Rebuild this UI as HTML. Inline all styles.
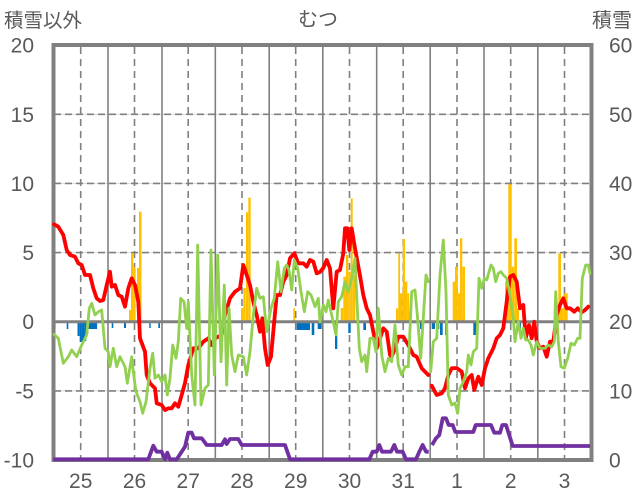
<!DOCTYPE html>
<html><head><meta charset="utf-8"><style>
html,body{margin:0;padding:0;background:#fff;}
svg{display:block;}
text{font-family:"Liberation Sans","Noto Sans CJK JP",sans-serif;fill:#595959;}
</style></head><body>
<svg width="636" height="501" viewBox="0 0 636 501" xmlns="http://www.w3.org/2000/svg">
<rect width="636" height="501" fill="#fff"/>
<!-- light horizontal gridlines -->
<g stroke="#d9d9d9" stroke-width="1">
<line x1="54" y1="114.3" x2="591" y2="114.3"/><line x1="54" y1="183.4" x2="591" y2="183.4"/>
<line x1="54" y1="252.6" x2="591" y2="252.6"/><line x1="54" y1="390.9" x2="591" y2="390.9"/>
</g>
<g stroke="#808080" stroke-width="1.6" stroke-dasharray="7 4">
<line x1="54" y1="114.3" x2="591" y2="114.3"/><line x1="54" y1="183.4" x2="591" y2="183.4"/>
<line x1="54" y1="252.6" x2="591" y2="252.6"/><line x1="54" y1="390.9" x2="591" y2="390.9"/>
</g>
<!-- vertical dashed (noon) -->
<g stroke="#808080" stroke-width="1.6" stroke-dasharray="7 5">
<line x1="80.7" y1="47" x2="80.7" y2="458"/><line x1="134.5" y1="47" x2="134.5" y2="458"/>
<line x1="188.2" y1="47" x2="188.2" y2="458"/><line x1="242" y1="47" x2="242" y2="458"/>
<line x1="295.7" y1="47" x2="295.7" y2="458"/><line x1="349.5" y1="47" x2="349.5" y2="458"/>
<line x1="403.2" y1="47" x2="403.2" y2="458"/><line x1="457" y1="47" x2="457" y2="458"/>
<line x1="510.7" y1="47" x2="510.7" y2="458"/><line x1="564.5" y1="47" x2="564.5" y2="458"/>
</g>
<!-- vertical solid (day boundaries) -->
<g stroke="#808080" stroke-width="1.6">
<line x1="108" y1="47" x2="108" y2="458"/><line x1="162" y1="47" x2="162" y2="458"/>
<line x1="215.3" y1="47" x2="215.3" y2="458"/><line x1="269.2" y1="47" x2="269.2" y2="458"/>
<line x1="322.8" y1="47" x2="322.8" y2="458"/><line x1="376.7" y1="47" x2="376.7" y2="458"/>
<line x1="430.2" y1="47" x2="430.2" y2="458"/><line x1="484" y1="47" x2="484" y2="458"/>
<line x1="537.8" y1="47" x2="537.8" y2="458"/>
</g>
<!-- orange bars -->
<g fill="#FFC000">
<rect x="129" y="310" width="2" height="11.7"/>
<rect x="131" y="253" width="2.3" height="68.7"/>
<rect x="133.3" y="267" width="2.3" height="54.7"/>
<rect x="137" y="268" width="2" height="53.7"/>
<rect x="139" y="211.7" width="2.5" height="110"/>
<rect x="241" y="308" width="2.3" height="13.7"/>
<rect x="243.3" y="288" width="2.4" height="33.7"/>
<rect x="246" y="212.3" width="2.3" height="109.4"/>
<rect x="248.3" y="197.7" width="2.4" height="124"/>
<rect x="293.3" y="308.3" width="1.7" height="13.4"/>
<rect x="340.7" y="308" width="2.6" height="13.7"/>
<rect x="343.3" y="276.7" width="2.7" height="45"/>
<rect x="346" y="255" width="2.3" height="66.7"/>
<rect x="348.3" y="271.7" width="2.4" height="50"/>
<rect x="350.7" y="198.3" width="2" height="123.4"/>
<rect x="352.7" y="275" width="2.6" height="46.7"/>
<rect x="396" y="308.3" width="2.3" height="13.4"/>
<rect x="398.3" y="253.3" width="1.7" height="68.4"/>
<rect x="400" y="293.3" width="2.7" height="28.4"/>
<rect x="402.7" y="239" width="2.3" height="82.7"/>
<rect x="405" y="281.7" width="2.3" height="40"/>
<rect x="407.3" y="293.3" width="2" height="28.4"/>
<rect x="452.7" y="281.7" width="2.3" height="40"/>
<rect x="455" y="266.7" width="2.7" height="55"/>
<rect x="457.7" y="293.3" width="2.3" height="28.4"/>
<rect x="460" y="238.3" width="2.3" height="83.4"/>
<rect x="462.3" y="266.7" width="2.7" height="55"/>
<rect x="505" y="281.7" width="3.3" height="40"/>
<rect x="508.3" y="184.3" width="3.4" height="137.4"/>
<rect x="511.7" y="266.7" width="2.6" height="55"/>
<rect x="514.3" y="238.3" width="2.7" height="83.4"/>
<rect x="517" y="308.3" width="2" height="13.4"/>
<rect x="558.3" y="253.3" width="2.7" height="68.4"/>
<rect x="561" y="308.3" width="2.3" height="13.4"/>
<rect x="563.3" y="293.3" width="4.4" height="28.4"/>
</g>
<!-- blue bars -->
<g fill="#0070C0">
<rect x="54" y="322" width="1.6" height="7"/>
<rect x="66.7" y="322" width="1.6" height="7"/>
<rect x="77.5" y="322" width="2.2" height="14"/>
<rect x="79.7" y="322" width="2.2" height="20"/>
<rect x="81.9" y="322" width="2.2" height="20"/>
<rect x="84.1" y="322" width="2.2" height="19"/>
<rect x="86.3" y="322" width="2.2" height="11"/>
<rect x="88.5" y="322" width="8.6" height="7"/>
<rect x="111.7" y="322" width="1.6" height="6"/>
<rect x="124" y="322" width="2" height="6"/>
<rect x="149.3" y="322" width="1.4" height="6"/>
<rect x="158.3" y="322" width="1.7" height="6"/>
<rect x="178.3" y="322" width="1.4" height="6"/>
<rect x="198" y="322" width="2" height="6"/>
<rect x="296.7" y="322" width="13.3" height="8"/>
<rect x="311.7" y="322" width="2.6" height="13"/>
<rect x="317.7" y="322" width="2.3" height="7"/>
<rect x="320" y="322" width="1.7" height="7"/>
<rect x="335" y="322" width="2.3" height="27"/>
<rect x="348.3" y="322" width="2.4" height="11"/>
<rect x="363.3" y="322" width="2.7" height="8"/>
<rect x="420" y="322" width="2.7" height="7"/>
<rect x="431.7" y="322" width="3.3" height="7"/>
<rect x="436.7" y="322" width="2.6" height="7"/>
<rect x="440" y="322" width="2.7" height="13"/>
<rect x="445" y="322" width="2.3" height="13"/>
<rect x="473.3" y="322" width="3.4" height="13"/>
<rect x="518.3" y="322" width="2.7" height="7"/>
</g>
<!-- zero line -->
<line x1="54" y1="321.7" x2="591" y2="321.7" stroke="#808080" stroke-width="3"/>
<!-- frame -->
<rect x="53.5" y="45" width="538" height="415" fill="none" stroke="#808080" stroke-width="4"/>
<!-- red -->
<g fill="none" stroke="#FF0000" stroke-width="3.8" stroke-linejoin="round" stroke-linecap="round">
<polyline points="54,224.3 58.3,226.7 63.3,235 66.7,250 70,255 75,256.7 78.3,263.3 81.7,265 85,275 90,275 93.3,288.3 96.7,298.3 100,301 103.3,300 106.7,285 110,271.7 111.7,286.7 115,285 118.3,295 121.7,296.7 125,306.7 128.3,288.3 131.7,278.3 135,285 138.3,301.7 140,338.3 145,351.7 146.7,375 150,383.3 155,388.3 156.7,403.3 161.7,405 165,410 168.3,408.3 171.7,408.3 175,403.3 178.3,406.7 181.7,395 185,383 188.3,365 193.3,348.3 198.3,348.3 203.3,341.7 208.3,338.3 211.7,345 215,338.3 221.7,335 225,315 230,298.3 235,291.7 240,288.3 243.3,265 246.7,275 250,285 253.3,301.7 256.7,315 260,331.7 262.3,318.3 265,348.3 267.7,365 271,356.7 273.3,331.7 276.7,295 280,295 283.3,281.7 286.7,275 290,258.3 294.3,253.3 298.3,263.3 303.3,263.3 306.7,266.7 310,260 313.3,261.7 316.7,273.3 320,272 323.3,268 326.7,260 330,268.3 333.3,308.3 336.7,271.7 340,270 343.3,253.3 345,228.3 347.3,228.3 349.3,250 351.7,228.3 355,248.3 359.3,271.7 363.3,295 366.7,308.3 370,315 373.3,331.7 376.7,348.3 380,338.3 383.3,328.3 386.7,331.7 390,355 391.7,356.7 395,348.3 398.3,336.7 403.3,336.7 408.3,345 413.3,355 416.7,356.7 421.7,368.3 425,371.7 428.3,375"/>
<polyline points="431.7,385.7 436.7,395 441.7,393.3 445,388.3 448.3,375 451.7,368.3 456.7,368 461.7,371.7 465,388.3 468.3,378.3 471.7,375 474.3,390 478.3,376.7 481.7,385 485,368.3 488.3,358.3 493.3,348.3 496.7,338.3 500,335 503.3,328.3 506.7,301.7 510,276.7 513.3,275 516.7,281.7 520,308.3 523.3,305 525.7,338.3 529,325 531.7,338.3 534.3,321.7 536.7,341.7 540,348.3 543.3,346.7 546.7,356.7 550,341.7 553.3,341.7 556.7,315 560,305 563.3,298.3 566.7,308.3 570,308.3 574.3,311.7 577.7,308.3 581.7,312.3 585,310 588.3,306.7"/>
</g>
<!-- green -->
<g fill="none" stroke="#92D050" stroke-width="2.8" stroke-linejoin="round" stroke-linecap="round">
<polyline points="54,334.3 58.3,338.3 63.3,363.3 68.3,356.7 71.7,350 76.7,356.7 81.7,345 86.7,335 89.3,308.3 91.7,303.3 95,315 98.3,311.7 101.7,310 105,348.3 108.3,351.7 110,366.7 113.3,348.3 116.7,366.7 120,356.7 125,366.7 127.3,383.3 131.7,356.7 133.3,371.7 136,391.7 140,401.7 142.7,413.3 146,401.7 150,368.3 152.7,353.3 155,378.3 158.3,375 161.7,381.7 165,375 167.3,395 170,378.3 172.7,345 176,358.3 178.3,341.7 180.7,298.3 184,301.7 186.7,328.3 188.3,301.7 191.7,375 195,405 197.7,245 201,405 205,388.3 208.3,385 211,250 214.3,375 217.7,255 221,361.7 224.3,285 226.7,385 229,308.3 231.7,355 235,371.7 238.3,355 243.3,356.7 246.7,375 250,351.7 253.3,315 256.7,288.3 260,298.3 263.3,296.7 266.7,331.7 271,308.3 274.3,298.3 277.7,261.7 281,291.7 284.3,268.3 286.7,265 289,270 291.7,290 294.3,260 297.7,268.3 301,291.7 304.3,311.7 307.7,291.7 311,295 315,306.7 318.3,298.3 320,322 323.3,305 326,311.7 328.3,300 331.7,315 336,335 338.3,301.7 341.7,296.7 345,281.7 348.3,291.7 351.7,278.3 355,258.3 357.3,308.3 359.3,348.3 361.7,361.7 365,355 366.7,371.7 370,338.3 373.3,338.3 376,351.7 378.3,308.3 381.7,355 385,371.7 388.3,358.3 391.7,361.7 395,325 398.3,365 401.7,375 405,366.7 408.3,366.7 411.7,291.7 415,290 417.3,315 420.7,358.3 423.3,318.3 426,275 428.3,281.7"/>
<polyline points="430.7,371.7 433.3,341.7 436.7,338.3 440,275 443.3,240 446,291.7 448.3,395 451.7,405 455,403 457.7,413.3 460,388.3 463.3,381.7 466.7,371.7 468.3,355 471,365 473.3,351.7 476.7,348.3 479,278.3 481.7,288.3 484.3,278.3 486.7,280 491,265 493.3,268.3 495.7,281.7 498.3,273.3 501,271.7 503.3,275 506.7,278.3 510,295 513.3,318.3 515,341.7 518.3,321.7 521,338.3 523.3,328.3 525.7,340 528.3,340 531,345 533.3,355 536.7,341.7 540,348.3 545,348.3 548.3,345 551.7,346.7 554.3,341.7 555.7,291.7 558.3,341.7 561,366.7 564.3,368.3 567.7,358.3 571,343.3 574.3,345 577.7,338.3 580,338.3 582.3,278.3 585.7,265 588.3,265 590,273.3"/>
</g>
<!-- purple -->
<g fill="none" stroke="#7030A0" stroke-width="3.8" stroke-linejoin="round">
<polyline points="53.3,459.3 148.3,459.3 153.3,445.7 156.7,451.7 161.7,451.7 165,459.3 167.3,452.7 170,459.3 176.7,459.3 181.7,451.7 185,446.7 188.3,432.7 191.7,432.7 194,438.3 201.7,438.3 206.7,445 221.7,445 225,439.3 226.7,444 230,439 238.3,439 241.7,445 285,445 290,459.3 369.3,459.3 372.7,451.7 376.7,451.7 379.3,445 382,451.7 391,451.7 394.3,445 397,451.7 402.7,451.7 406,459.3 416,459.3 419.3,451.7 422.7,445 426,451.7 428.7,451.7"/>
<polyline points="432,445 436,438.3 439.3,435 442.7,418.3 446,418.3 448.7,425 452.7,425 455.3,432 473.3,432 475.7,425 491,425 494.3,432.7 500,432.7 502.3,425 506,425 512.7,446 590,446"/>
</g>
<!-- left axis labels -->
<g font-size="21" text-anchor="end">
<text x="34" y="52.6">20</text><text x="34" y="121.8">15</text><text x="34" y="190.9">10</text>
<text x="34" y="260.1">5</text><text x="34" y="329.2">0</text><text x="34" y="398.4">-5</text><text x="34" y="467.5">-10</text>
</g>
<!-- right axis labels -->
<g font-size="21" text-anchor="start">
<text x="609" y="52.6">60</text><text x="609" y="121.8">50</text><text x="609" y="190.9">40</text>
<text x="609" y="260.1">30</text><text x="609" y="329.2">20</text><text x="609" y="398.4">10</text><text x="609" y="467.5">0</text>
</g>
<!-- bottom labels -->
<g font-size="21" text-anchor="middle">
<text x="80.7" y="488">25</text><text x="134.5" y="488">26</text><text x="188.2" y="488">27</text>
<text x="242" y="488">28</text><text x="295.7" y="488">29</text><text x="349.5" y="488">30</text>
<text x="403.2" y="488">31</text><text x="457" y="488">1</text><text x="510.7" y="488">2</text><text x="564.5" y="488">3</text>
</g>
<text x="4" y="27" font-size="19.5">積雪以外</text>
<text x="318" y="26" font-size="20" text-anchor="middle">むつ</text>
<text x="632" y="27" font-size="20" text-anchor="end">積雪</text>
</svg>
</body></html>
